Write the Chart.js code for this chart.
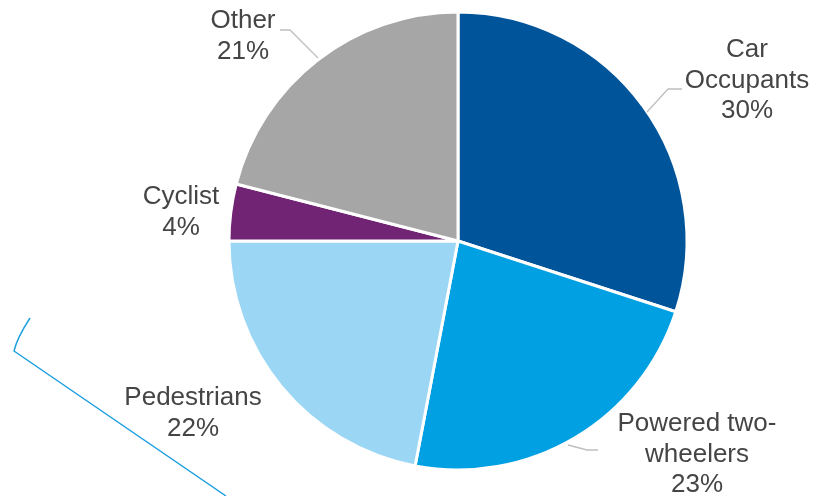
<!DOCTYPE html>
<html>
<head>
<meta charset="utf-8">
<script src="https://cdn.jsdelivr.net/npm/chart.js@4/dist/chart.umd.min.js"></script>
<style>
  html, body { margin: 0; padding: 0; background: #ffffff; }
  #wrap { width: 816px; height: 496px; }
</style>
</head>
<body>
<div id="wrap"><canvas id="chart" width="816" height="496"></canvas></div>
<script>
// Road fatality share by road user group (%)
const categories = ['Car Occupants', 'Powered two-wheelers', 'Pedestrians', 'Cyclist', 'Other'];
const shares = [30, 23, 22, 4, 21];
const sliceColors = ['#00549a', '#00a0e2', '#9bd6f4', '#702473', '#a6a6a6'];

// Label text lines (the last line is the share) and where each block sits
const labelLines = [
  ['Car', 'Occupants'],
  ['Powered two-', 'wheelers'],
  ['Pedestrians'],
  ['Cyclist'],
  ['Other']
];
const labelLayout = [
  { x: 747, y: 50 },
  { x: 697, y: 424 },
  { x: 193, y: 398 },
  { x: 181, y: 197 },
  { x: 243, y: 21 }
];
// Leader lines from label to slice
const leaders = [
  [[682, 89], [668, 89], [647, 112]],
  [[598, 450], [587, 450], [568, 445]],
  null,
  null,
  [[280, 30], [290, 30], [318, 58]]
];

const labelPlugin = {
  id: 'sliceLabels',
  afterDraw(chart) {
    const ctx = chart.ctx;
    ctx.save();

    // leader lines
    ctx.strokeStyle = '#bfbfbf';
    ctx.lineWidth = 1.3;
    leaders.forEach(pts => {
      if (!pts) return;
      ctx.beginPath();
      ctx.moveTo(pts[0][0], pts[0][1]);
      for (let i = 1; i < pts.length; i++) ctx.lineTo(pts[i][0], pts[i][1]);
      ctx.stroke();
    });

    // label text
    ctx.fillStyle = '#454545';
    ctx.font = '26px "Liberation Sans", Arial, sans-serif';
    ctx.textAlign = 'center';
    ctx.textBaseline = 'middle';
    const lineH = 30.5;
    chart.data.labels.forEach((name, i) => {
      const lines = labelLines[i].concat([shares[i] + '%']);
      const pos = labelLayout[i];
      lines.forEach((t, k) => ctx.fillText(t, pos.x, pos.y + k * lineH));
    });

    // thin blue bracket stroke at lower left
    ctx.strokeStyle = '#1a9de0';
    ctx.lineWidth = 1.4;
    ctx.beginPath();
    ctx.moveTo(30, 318);
    ctx.quadraticCurveTo(17, 338, 14, 351);
    ctx.lineTo(226, 496);
    ctx.stroke();

    ctx.restore();
  }
};

new Chart(document.getElementById('chart'), {
  type: 'pie',
  data: {
    labels: categories,
    datasets: [{
      data: shares,
      backgroundColor: sliceColors,
      borderColor: '#ffffff',
      borderWidth: 3,
      hoverOffset: 0
    }]
  },
  options: {
    responsive: false,
    animation: false,
    layout: { padding: { top: 10.5, bottom: 24.5, left: 227.5, right: 127.5 } },
    plugins: {
      legend: { display: false },
      tooltip: { enabled: false },
      title: { display: false }
    }
  },
  plugins: [labelPlugin]
});
</script>
</body>
</html>
